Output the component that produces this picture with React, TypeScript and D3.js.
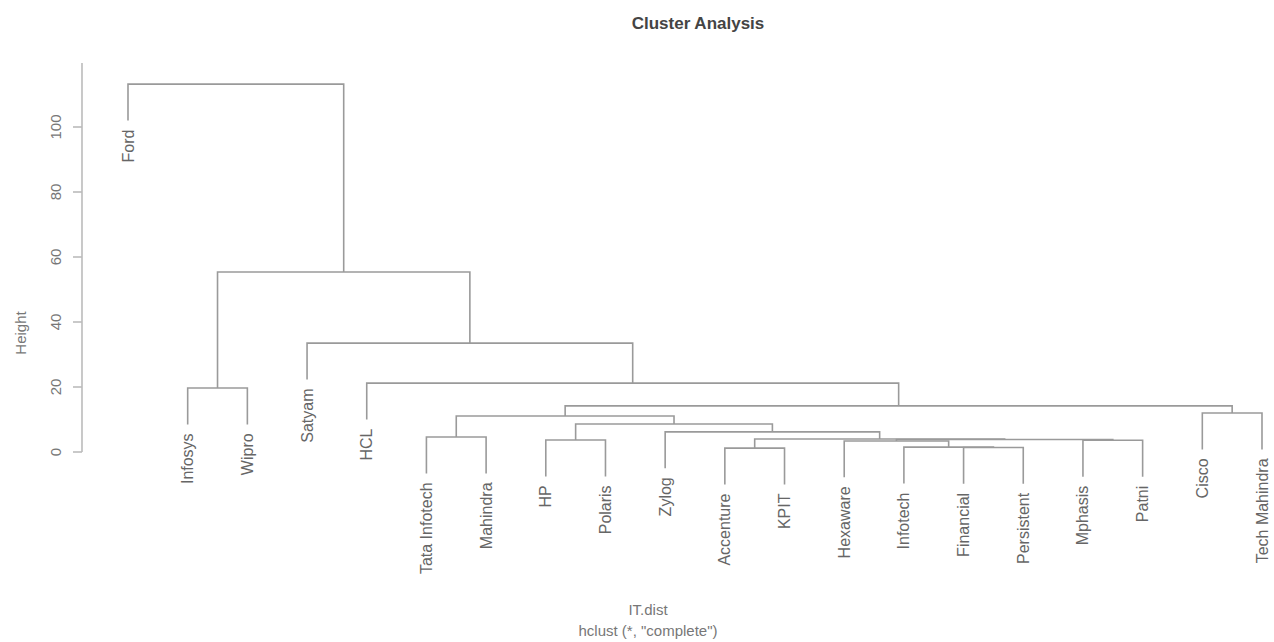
import React from "react";
import * as d3 from "d3";

// Leaves in display order
const leafLabels = [
  "Ford", "Infosys", "Wipro", "Satyam", "HCL", "Tata Infotech", "Mahindra",
  "HP", "Polaris", "Zylog", "Accenture", "KPIT", "Hexaware", "Infotech",
  "Financial", "Persistent", "Mphasis", "Patni", "Cisco", "Tech Mahindra",
];

// R-style merge matrix: negative = leaf (1-based index into leafLabels), positive = earlier merge step
const mergeA = [-11, -15, -14, -13, -17, -8, 4, 1, -6, -10, 6, 9, -19, 12, -2, -5, -4, 15, -1];
const mergeB = [-12, -16, 2, 3, -18, -9, 5, 7, -7, 8, 10, 11, -20, 13, -3, 14, 16, 17, 18];
const mergeHeight = [1.2, 1.4, 1.5, 3.4, 3.6, 3.7, 3.85, 4.0, 4.6, 6.2, 8.6, 11.1, 12.0, 14.2, 19.7, 21.2, 33.5, 55.4, 113.2];

const yTicks = [0, 20, 40, 60, 80, 100];

const W = 1274;
const H = 642;

export default function App() {
  const x = d3.scaleLinear().domain([1, leafLabels.length]).range([128, 1262]);
  const y = d3.scaleLinear().domain([0, 100]).range([452, 127]);
  const hang = 0.1 * (d3.max(mergeHeight)! - d3.min(mergeHeight)!);

  const nodeX: number[] = [];
  const segs: string[] = [];
  const leafEnds: { i: number; yEnd: number }[] = [];

  const childPos = (c: number, parentH: number) => {
    if (c < 0) {
      const i = -c - 1;
      const yEnd = parentH - hang;
      leafEnds.push({ i, yEnd });
      return { cx: x(i + 1), cy: yEnd };
    }
    return { cx: nodeX[c - 1], cy: mergeHeight[c - 1] };
  };

  mergeHeight.forEach((h, k) => {
    const a = childPos(mergeA[k], h);
    const b = childPos(mergeB[k], h);
    nodeX[k] = (a.cx + b.cx) / 2;
    const p = d3.path();
    p.moveTo(a.cx, y(a.cy));
    p.lineTo(a.cx, y(h));
    p.lineTo(b.cx, y(h));
    p.lineTo(b.cx, y(b.cy));
    segs.push(p.toString());
  });

  const font = "'Liberation Sans', Arial, Helvetica, sans-serif";
  const axisX = 82;

  return (
    <svg width={W} height={H} style={{ position: "absolute", left: 0, top: 0, background: "#fff" }} fontFamily={font}>
      <text x={698} y={29} textAnchor="middle" fontSize={17} fontWeight="bold" fill="#444">
        Cluster Analysis
      </text>

      {segs.map((d, i) => (
        <path key={i} d={d} fill="none" stroke="#9a9a9a" strokeWidth={1.6} />
      ))}

      {leafEnds.map(({ i, yEnd }) => {
        const lx = x(i + 1);
        const ly = y(yEnd) + 9;
        return (
          <text
            key={i}
            transform={`translate(${lx},${ly}) rotate(-90)`}
            textAnchor="end"
            dominantBaseline="central"
            fontSize={16}
            fill="#666"
          >
            {leafLabels[i]}
          </text>
        );
      })}

      <line x1={axisX} x2={axisX} y1={y(0)} y2={63} stroke="#bbb" strokeWidth={1.6} />
      {yTicks.map((t) => (
        <g key={t}>
          <line x1={axisX - 9} x2={axisX} y1={y(t)} y2={y(t)} stroke="#bbb" strokeWidth={1.6} />
          <text
            transform={`translate(${axisX - 27},${y(t)}) rotate(-90)`}
            textAnchor="middle"
            dominantBaseline="central"
            fontSize={15}
            fill="#777"
          >
            {t}
          </text>
        </g>
      ))}
      <text
        transform={`translate(20,333) rotate(-90)`}
        textAnchor="middle"
        dominantBaseline="central"
        fontSize={15}
        fill="#777"
      >
        Height
      </text>

      <text x={648} y={615} textAnchor="middle" fontSize={15} fill="#777">
        IT.dist
      </text>
      <text x={648} y={636} textAnchor="middle" fontSize={15} fill="#777">
        hclust (*, "complete")
      </text>
    </svg>
  );
}
